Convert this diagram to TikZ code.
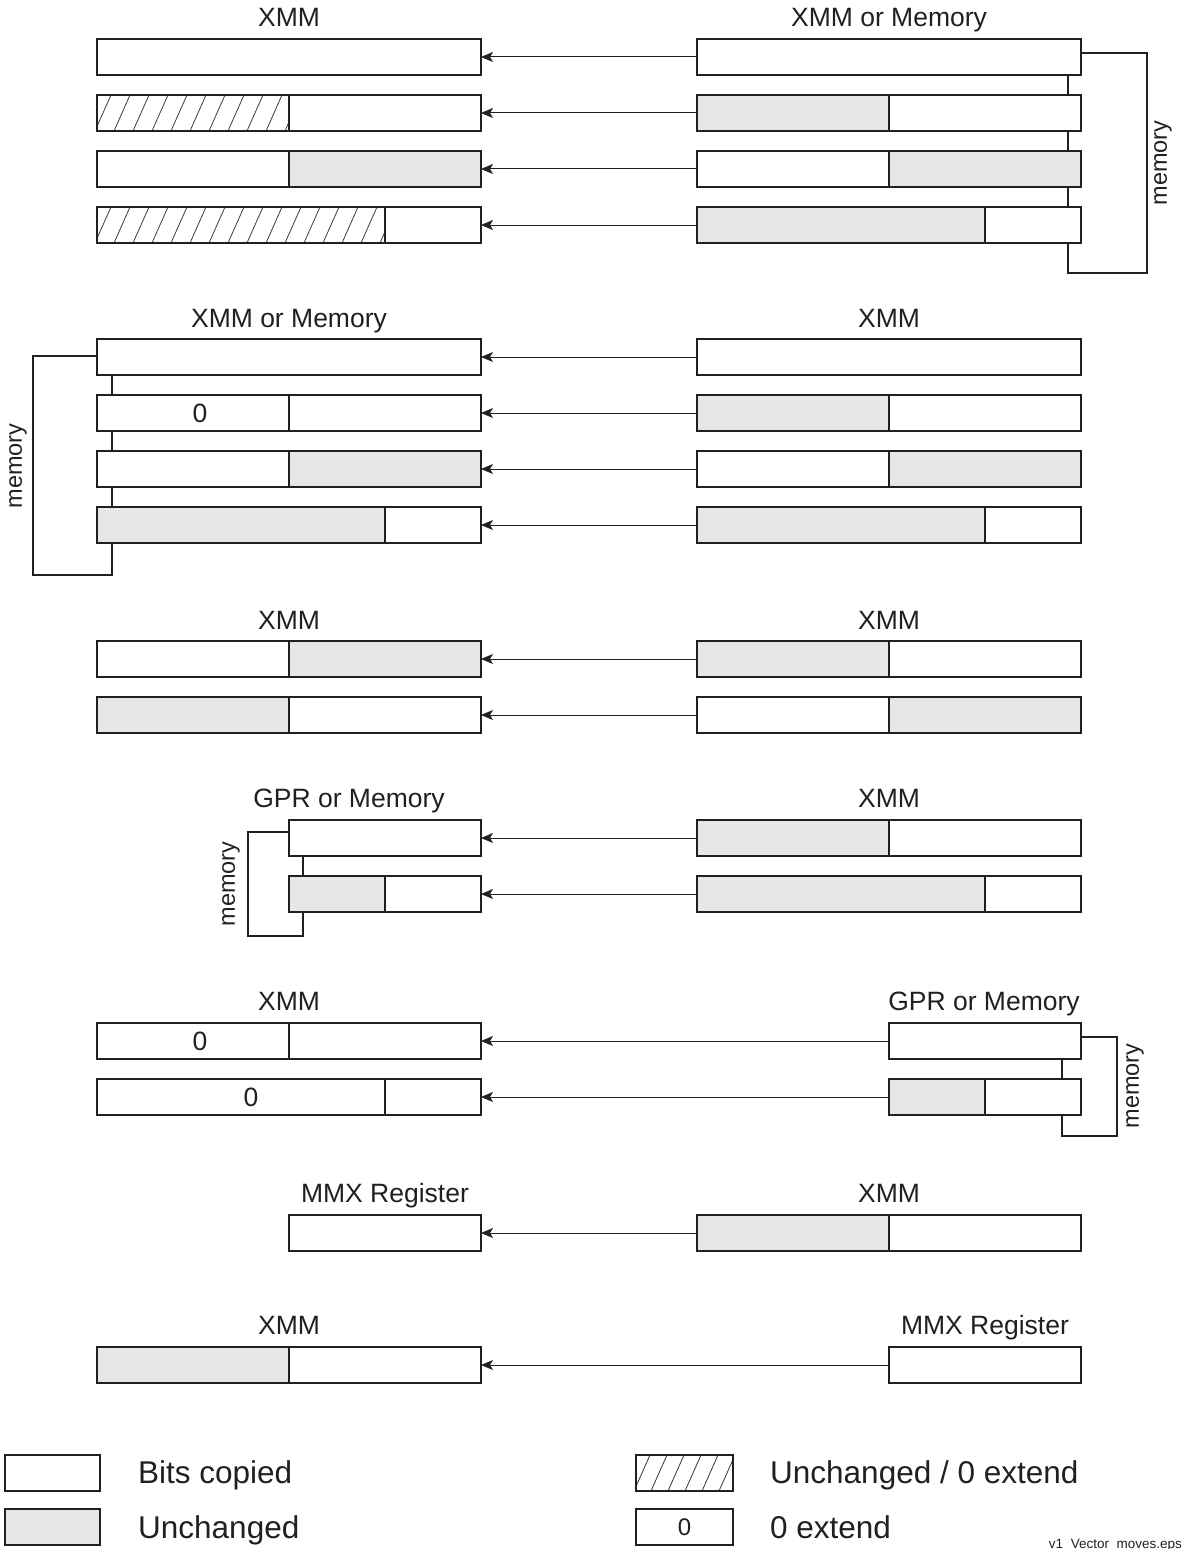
\documentclass[tikz,border=0pt]{standalone}
\usepackage{fontspec}
\setmainfont{Liberation Sans}
\usetikzlibrary{arrows.meta,backgrounds}
\definecolor{ln}{HTML}{231F20}
\definecolor{gr}{HTML}{E6E7E8}
\newcommand{\hatchfill}[2]{%
  \begin{scope}
    \clip (#1.south west) rectangle (#1.north east);
    \foreach \k in {0,...,17}{\draw[hatchln] ([xshift=\k*#2-2pt]#1.south west) -- ++(16,-36);}
  \end{scope}}
\begin{document}
\begin{tikzpicture}[x=1pt,y=-1pt,
  seg/.style={draw=ln, line width=2pt, fill=white, minimum height=36pt, inner sep=0pt, outer sep=0pt, anchor=north west},
  gseg/.style={seg, fill=gr},
  w96/.style={minimum width=96pt},
  w192/.style={minimum width=192pt},
  w288/.style={minimum width=288pt},
  w384/.style={minimum width=384pt},
  hatchln/.style={draw=ln, line width=0.7pt},
  lbl/.style={font=\fontsize{26.5}{30}\selectfont, inner sep=0pt, anchor=base, text=ln},
  leg/.style={font=\fontsize{31.5}{36}\selectfont, inner sep=0pt, anchor=base west, text=ln},
  zero/.style={font=\fontsize{26.5}{30}\selectfont, inner sep=0pt, text=ln},
  mem/.style={font=\fontsize{23.5}{28}\selectfont, inner sep=0pt, rotate=90, text=ln},
  arr/.style={draw=ln, line width=1pt, -{Stealth[length=12pt,width=10pt,inset=3pt]}},
  brk/.style={draw=ln, line width=1.8pt}
]
\useasboundingbox (0,0) rectangle (1183,1549);

% ---------------- Section 1 ----------------
\node[lbl] (t1l) at (289,27) {XMM};
\node[lbl] (t1r) at (889,27) {XMM or Memory};
\node[seg,w384] (L11) at (97,39) {};
\node[seg,w192] (L12a) at (97,95) {};
\node[seg,w192] (L12) at (289,95) {};
\node[seg,w192] (L13a) at (97,151) {};
\node[gseg,w192] (L13) at (289,151) {};
\node[seg,w288] (L14a) at (97,207) {};
\node[seg,w96] (L14) at (385,207) {};
\hatchfill{L12a}{19pt}
\hatchfill{L14a}{19pt}
\node[seg,w384] (R11) at (697,39) {};
\node[gseg,w192] (R12) at (697,95) {};
\node[seg,w192] (R12b) at (889,95) {};
\node[seg,w192] (R13) at (697,151) {};
\node[gseg,w192] (R13b) at (889,151) {};
\node[gseg,w288] (R14) at (697,207) {};
\node[seg,w96] (R14b) at (985,207) {};
\coordinate (c1a) at (1147,273);
\coordinate (c1b) at (1068,75);
\begin{scope}[on background layer]
\draw[brk] ([yshift=4pt]R11.east) -| (c1a) -| (c1b);
\end{scope}
\node[mem] (m1) at (1163,163) {memory};
\draw[arr] (R11.west) -- (L11.east);
\draw[arr] (R12.west) -- (L12.east);
\draw[arr] (R13.west) -- (L13.east);
\draw[arr] (R14.west) -- (L14.east);

% ---------------- Section 2 ----------------
\node[lbl] (t2l) at (289,327) {XMM or Memory};
\node[lbl] (t2r) at (889,327) {XMM};
\node[seg,w384] (L21) at (97,339) {};
\node[seg,w192] (L22a) at (97,395) {};
\node[seg,w192] (L22) at (289,395) {};
\node[seg,w192] (L23a) at (97,451) {};
\node[gseg,w192] (L23) at (289,451) {};
\node[gseg,w288] (L24a) at (97,507) {};
\node[seg,w96] (L24) at (385,507) {};
\node[zero] (z21) at (200,413) {0};
\node[seg,w384] (R21) at (697,339) {};
\node[gseg,w192] (R22) at (697,395) {};
\node[seg,w192] (R22b) at (889,395) {};
\node[seg,w192] (R23) at (697,451) {};
\node[gseg,w192] (R23b) at (889,451) {};
\node[gseg,w288] (R24) at (697,507) {};
\node[seg,w96] (R24b) at (985,507) {};
\coordinate (c2a) at (33,575);
\coordinate (c2b) at (112,375);
\begin{scope}[on background layer]
\draw[brk] ([yshift=1pt]L21.west) -| (c2a) -| (c2b);
\end{scope}
\node[mem] (m2) at (18,466) {memory};
\draw[arr] (R21.west) -- (L21.east);
\draw[arr] (R22.west) -- (L22.east);
\draw[arr] (R23.west) -- (L23.east);
\draw[arr] (R24.west) -- (L24.east);

% ---------------- Section 3 ----------------
\node[lbl] (t3l) at (289,629) {XMM};
\node[lbl] (t3r) at (889,629) {XMM};
\node[seg,w192] (L31a) at (97,641) {};
\node[gseg,w192] (L31) at (289,641) {};
\node[gseg,w192] (L32a) at (97,697) {};
\node[seg,w192] (L32) at (289,697) {};
\node[gseg,w192] (R31) at (697,641) {};
\node[seg,w192] (R31b) at (889,641) {};
\node[seg,w192] (R32) at (697,697) {};
\node[gseg,w192] (R32b) at (889,697) {};
\draw[arr] (R31.west) -- (L31.east);
\draw[arr] (R32.west) -- (L32.east);

% ---------------- Section 4 ----------------
\node[lbl] (t4l) at (349,807) {GPR or Memory};
\node[lbl] (t4r) at (889,807) {XMM};
\node[seg,w192] (L41) at (289,820) {};
\node[gseg,w96] (L42a) at (289,876) {};
\node[seg,w96] (L42) at (385,876) {};
\node[gseg,w192] (R41) at (697,820) {};
\node[seg,w192] (R41b) at (889,820) {};
\node[gseg,w288] (R42) at (697,876) {};
\node[seg,w96] (R42b) at (985,876) {};
\coordinate (c4a) at (248,936);
\coordinate (c4b) at (303,856);
\begin{scope}[on background layer]
\draw[brk] ([yshift=6pt]L41.west) -| (c4a) -| (c4b);
\end{scope}
\node[mem] (m4) at (231,884) {memory};
\draw[arr] (R41.west) -- (L41.east);
\draw[arr] (R42.west) -- (L42.east);

% ---------------- Section 5 ----------------
\node[lbl] (t5l) at (289,1010) {XMM};
\node[lbl] (t5r) at (984,1010) {GPR or Memory};
\node[seg,w192] (L51a) at (97,1023) {};
\node[seg,w192] (L51) at (289,1023) {};
\node[seg,w288] (L52a) at (97,1079) {};
\node[seg,w96] (L52) at (385,1079) {};
\node[zero] (z51) at (200,1041) {0};
\node[zero] (z52) at (251,1097) {0};
\node[seg,w192] (R51) at (889,1023) {};
\node[gseg,w96] (R52) at (889,1079) {};
\node[seg,w96] (R52b) at (985,1079) {};
\coordinate (c5a) at (1117,1136);
\coordinate (c5b) at (1062,1059);
\begin{scope}[on background layer]
\draw[brk] ([yshift=4pt]R51.east) -| (c5a) -| (c5b);
\end{scope}
\node[mem] (m5) at (1135,1086) {memory};
\draw[arr] (R51.west) -- (L51.east);
\draw[arr] (R52.west) -- (L52.east);

% ---------------- Section 6 ----------------
\node[lbl] (t6l) at (385,1202) {MMX Register};
\node[lbl] (t6r) at (889,1202) {XMM};
\node[seg,w192] (L61) at (289,1215) {};
\node[gseg,w192] (R61) at (697,1215) {};
\node[seg,w192] (R61b) at (889,1215) {};
\draw[arr] (R61.west) -- (L61.east);

% ---------------- Section 7 ----------------
\node[lbl] (t7l) at (289,1334) {XMM};
\node[lbl] (t7r) at (985,1334) {MMX Register};
\node[gseg,w192] (L71a) at (97,1347) {};
\node[seg,w192] (L71) at (289,1347) {};
\node[seg,w192] (R71) at (889,1347) {};
\draw[arr] (R71.west) -- (L71.east);

% ---------------- Legend ----------------
\node[seg,minimum width=95pt] (k1) at (5,1455) {};
\node[gseg,minimum width=95pt] (k2) at (5,1509) {};
\node[leg] (k1t) at (138,1483) {Bits copied};
\node[leg] (k2t) at (138,1538) {Unchanged};
\node[seg,minimum width=97pt] (k3) at (636,1455) {};
\hatchfill{k3}{17pt}
\node[seg,minimum width=97pt, font=\fontsize{24}{28}\selectfont, text=ln] (k4) at (636,1509) {0};
\node[leg] (k3t) at (770,1483) {Unchanged / 0 extend};
\node[leg] (k4t) at (770,1538) {0 extend};
\node[font=\fontsize{13.5}{16}\selectfont, inner sep=0pt, anchor=base east, text=ln] (fn) at (1182,1548) {v1\_Vector\_moves.eps};
\end{tikzpicture}
\end{document}
